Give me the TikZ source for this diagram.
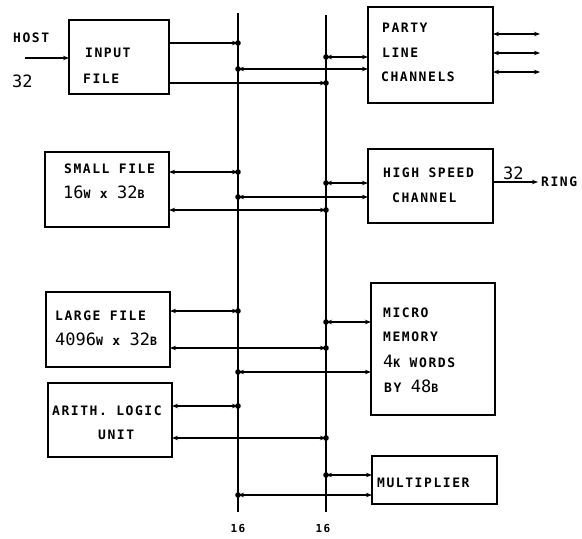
\documentclass[tikz,border=0pt]{standalone}
\usepackage{fontspec}
\usetikzlibrary{arrows.meta}
\newfontfamily\lett[LetterSpace=12]{DejaVu Sans Mono}
\newfontfamily\digf{DejaVu Sans Mono}
\newcommand{\lt}{\fontsize{13}{15}\lett\bfseries}
\newcommand{\bigd}[1]{{\fontsize{17}{18}\digf\mdseries #1}}
\newcommand{\smc}[1]{{\fontsize{11.5}{12}\selectfont #1}}
\begin{document}
\begin{tikzpicture}[x=1pt,y=-1pt,
  box/.style={draw,line width=1.4pt,inner sep=0pt,outer sep=0pt},
  txt/.style={anchor=west,inner sep=0pt,font=\lt},
  wire/.style={line width=1.6pt},
  bi/.style={wire,{Stealth[length=6pt,width=4.5pt]}-{Stealth[length=6pt,width=4.5pt]}},
  to/.style={wire,-{Stealth[length=6pt,width=4.5pt]}},
  bus/.style={line width=1.7pt}]
\useasboundingbox (0,0) rectangle (582,539);
% buses
\coordinate (b1t) at (238,13);
\coordinate (b1b) at (238,512);
\coordinate (b2t) at (326,15);
\coordinate (b2b) at (326,512);
\draw[bus] (b1t) -- (b1b);
\draw[bus] (b2t) -- (b2b);
\node[font=\lett\bfseries\fontsize{11}{12}\selectfont] (n1) at (238,528) {16};
\node[font=\lett\bfseries\fontsize{11}{12}\selectfont] (n2) at (323,528) {16};
% boxes
\node[box,minimum width=100pt,minimum height=74pt] (inp) at (119,57) {};
\node[box,minimum width=125pt,minimum height=96pt] (party) at (430.5,55) {};
\node[box,minimum width=124pt,minimum height=75pt] (sf) at (107,189.5) {};
\node[box,minimum width=125pt,minimum height=74pt] (hsc) at (430.5,186) {};
\node[box,minimum width=124pt,minimum height=75pt] (lf) at (108,329.5) {};
\node[box,minimum width=124pt,minimum height=132pt] (mm) at (433,349) {};
\node[box,minimum width=124pt,minimum height=74pt] (alu) at (110,420) {};
\node[box,minimum width=125pt,minimum height=48pt] (mul) at (434.5,480) {};
% texts
\node[txt] (th) at (13,38) {HOST};
\node[txt] (t32a) at (12,81) {\bigd{32}};
\node[txt] (ti1) at (85,53) {INPUT};
\node[txt] (ti2) at (83,79) {FILE};
\node[txt] (tp1) at (382,28) {PARTY};
\node[txt] (tp2) at (382,53) {LINE};
\node[txt] (tp3) at (381,77) {CHANNELS};
\node[txt] (ts1) at (64,169) {SMALL FILE};
\node[txt] (ts2) at (63,192) {\bigd{16}\smc{W} x \bigd{32}\smc{B}};
\node[txt] (th1) at (383,173) {HIGH SPEED};
\node[txt] (th2) at (392,198) {CHANNEL};
\node[txt] (t32b) at (503,173) {\bigd{32}};
\node[txt] (tring) at (541,182) {RING};
\node[txt] (tl1) at (55,316) {LARGE FILE};
\node[txt] (tl2) at (55,339) {\bigd{4096}\smc{W} x \bigd{32}\smc{B}};
\node[txt] (tm1) at (383,313) {MICRO};
\node[txt] (tm2) at (383,337) {MEMORY};
\node[txt] (tm3) at (383,361) {\bigd{4}\smc{K} WORDS};
\node[txt] (tm4) at (384,386) {BY \bigd{48}\smc{B}};
\node[txt] (ta1) at (52,411) {ARITH. LOGIC};
\node[txt] (ta2) at (98,435) {UNIT};
\node[txt] (tmu) at (377,483) {MULTIPLIER};
% host input
\coordinate (host) at (25,58);
\draw[to] (host) -- (inp.west |- host);
% input file
\draw[to] (inp.east |- 0,43) -- (b1t |- 0,43);
\draw[to] (inp.east |- 0,83) -- (b2t |- 0,83);
% party line
\draw[bi] (b1t |- 0,69) -- (party.west |- 0,69);
\draw[bi] (b2t |- 0,57) -- (party.west |- 0,57);
\coordinate (po1) at (540,34);
\coordinate (po2) at (540,53);
\coordinate (po3) at (540,72);
\draw[bi] (party.east |- po1) -- (po1);
\draw[bi] (party.east |- po2) -- (po2);
\draw[bi] (party.east |- po3) -- (po3);
% small file
\draw[bi] (sf.east |- 0,172) -- (b1t |- 0,172);
\draw[bi] (sf.east |- 0,210) -- (b2t |- 0,210);
% high speed channel
\draw[bi] (b1t |- 0,197) -- (hsc.west |- 0,197);
\draw[bi] (b2t |- 0,183) -- (hsc.west |- 0,183);
\coordinate (ring) at (538,182);
\draw[to] (hsc.east |- ring) -- (ring);
% large file
\draw[bi] (lf.east |- 0,311) -- (b1t |- 0,311);
\draw[bi] (lf.east |- 0,348) -- (b2t |- 0,348);
% micro memory
\draw[bi] (b2t |- 0,322) -- (mm.west |- 0,322);
\draw[bi] (b1t |- 0,372) -- (mm.west |- 0,372);
% alu
\draw[bi] (alu.east |- 0,406) -- (b1t |- 0,406);
\draw[bi] (alu.east |- 0,438) -- (b2t |- 0,438);
% multiplier
\draw[bi] (b2t |- 0,475) -- (mul.west |- 0,475);
\draw[bi] (b1t |- 0,495) -- (mul.west |- 0,495);
% junction dots
\foreach \y in {43,69,172,197,311,372,406,495} \fill (b1t |- 0,\y) circle (2.8);
\foreach \y in {57,83,183,210,322,348,438,475} \fill (b2t |- 0,\y) circle (2.8);
\end{tikzpicture}
\end{document}
